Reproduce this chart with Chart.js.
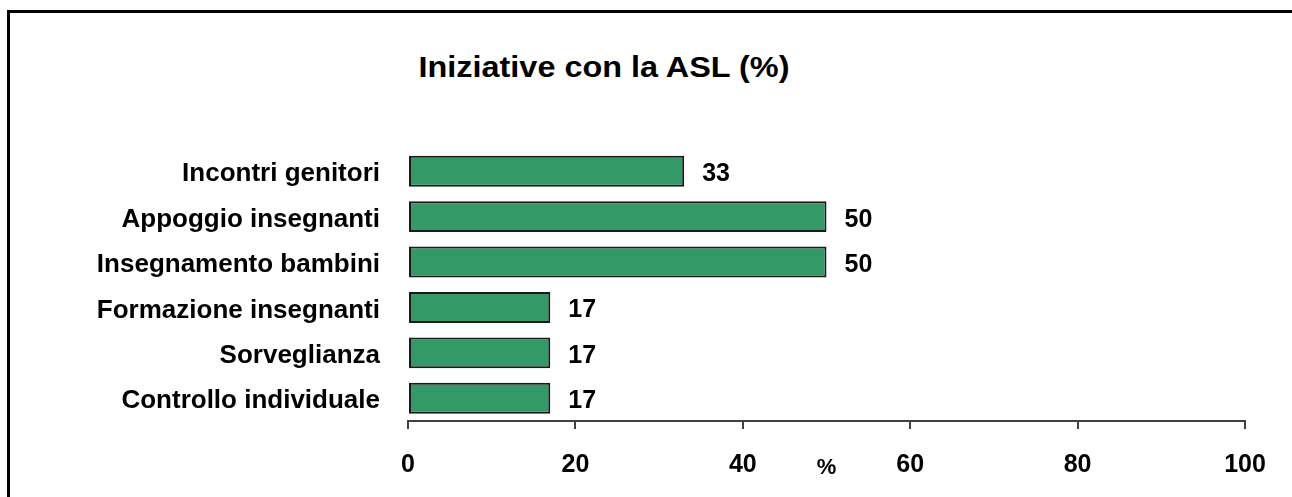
<!DOCTYPE html>
<html lang="it">
<head>
    <meta charset="UTF-8">
    <title>Iniziative con la ASL (%)</title>
    <script src="https://cdn.jsdelivr.net/npm/chart.js"></script>
    <style>
        html, body { margin: 0; padding: 0; background: #fff; overflow: hidden; }
        body { width: 1292px; height: 497px; position: relative; font-family: 'Liberation Sans', Arial, sans-serif; }
        /* open frame: only left and top edges are visible */
        #frame { position: absolute; left: 7px; top: 10px; width: 1320px; height: 520px; border-left: 3px solid #000; border-top: 3px solid #000; }
        #title { position: absolute; left: 0; width: 1208px; top: 52px; text-align: center; font-weight: bold; font-size: 30px; line-height: 30px; color: #000; transform: scaleX(1.08); }
        #chartBox { position: absolute; left: 0; top: 0; }
    </style>
</head>
<body>
    <div id="frame"></div>
    <div id="title">Iniziative con la ASL (%)</div>
    <canvas id="chartBox" width="1292" height="497"></canvas>

    <script>
        // Data
        const categories = ['Incontri genitori', 'Appoggio insegnanti', 'Insegnamento bambini', 'Formazione insegnanti', 'Sorveglianza', 'Controllo individuale'];
        const values = [33, 50, 50, 17, 17, 17];
        const xTicks = [0, 20, 40, 60, 80, 100];
        const axisTitle = '%';

        const FONT = '"Liberation Sans", Arial, sans-serif';
        Chart.defaults.font.family = FONT;
        Chart.defaults.color = '#000';

        // value labels to the right of each bar
        const valueLabels = {
            id: 'valueLabels',
            afterDatasetsDraw(chart) {
                const ctx = chart.ctx;
                const meta = chart.getDatasetMeta(0);
                ctx.save();
                ctx.font = 'bold 25px ' + FONT;
                ctx.fillStyle = '#000';
                ctx.textAlign = 'left';
                ctx.textBaseline = 'middle';
                meta.data.forEach((bar, i) => {
                    ctx.fillText(String(values[i]), bar.x + 18, bar.y + 3);
                });
                ctx.restore();
            }
        };

        new Chart(document.getElementById('chartBox'), {
            type: 'bar',
            data: {
                labels: categories,
                datasets: [{
                    data: values,
                    backgroundColor: '#339966',
                    borderColor: '#1a1a1a',
                    borderWidth: 2,
                    borderSkipped: false,
                    barPercentage: 0.68,
                    categoryPercentage: 1
                }]
            },
            options: {
                indexAxis: 'y',
                responsive: false,
                animation: false,
                devicePixelRatio: 1,
                layout: { padding: { left: 0, right: 47, top: 148.5, bottom: 0 } },
                plugins: {
                    legend: { display: false },
                    tooltip: { enabled: false }
                },
                scales: {
                    y: {
                        grid: { display: false, drawTicks: false },
                        border: { display: false },
                        ticks: { padding: 28, labelOffset: 3, font: { size: 26, weight: 'bold' }, color: '#000' },
                        afterFit: s => { s.width = 408; }
                    },
                    x: {
                        min: 0,
                        max: 100,
                        afterBuildTicks: s => { s.ticks = xTicks.map(v => ({ value: v })); },
                        grid: { display: true, drawOnChartArea: false, drawTicks: true, tickLength: 8, color: '#404040', lineWidth: 2 },
                        border: { display: true, color: '#404040', width: 2 },
                        ticks: { padding: 21, font: { size: 25, weight: 'bold' }, color: '#000', maxRotation: 0 },
                        title: { display: true, text: axisTitle, font: { size: 22, weight: 'bold' }, color: '#000', padding: { top: 0, bottom: 16 } },
                        afterFit: s => { s.height = 76; }
                    }
                }
            },
            plugins: [valueLabels]
        });
    </script>
</body>
</html>
